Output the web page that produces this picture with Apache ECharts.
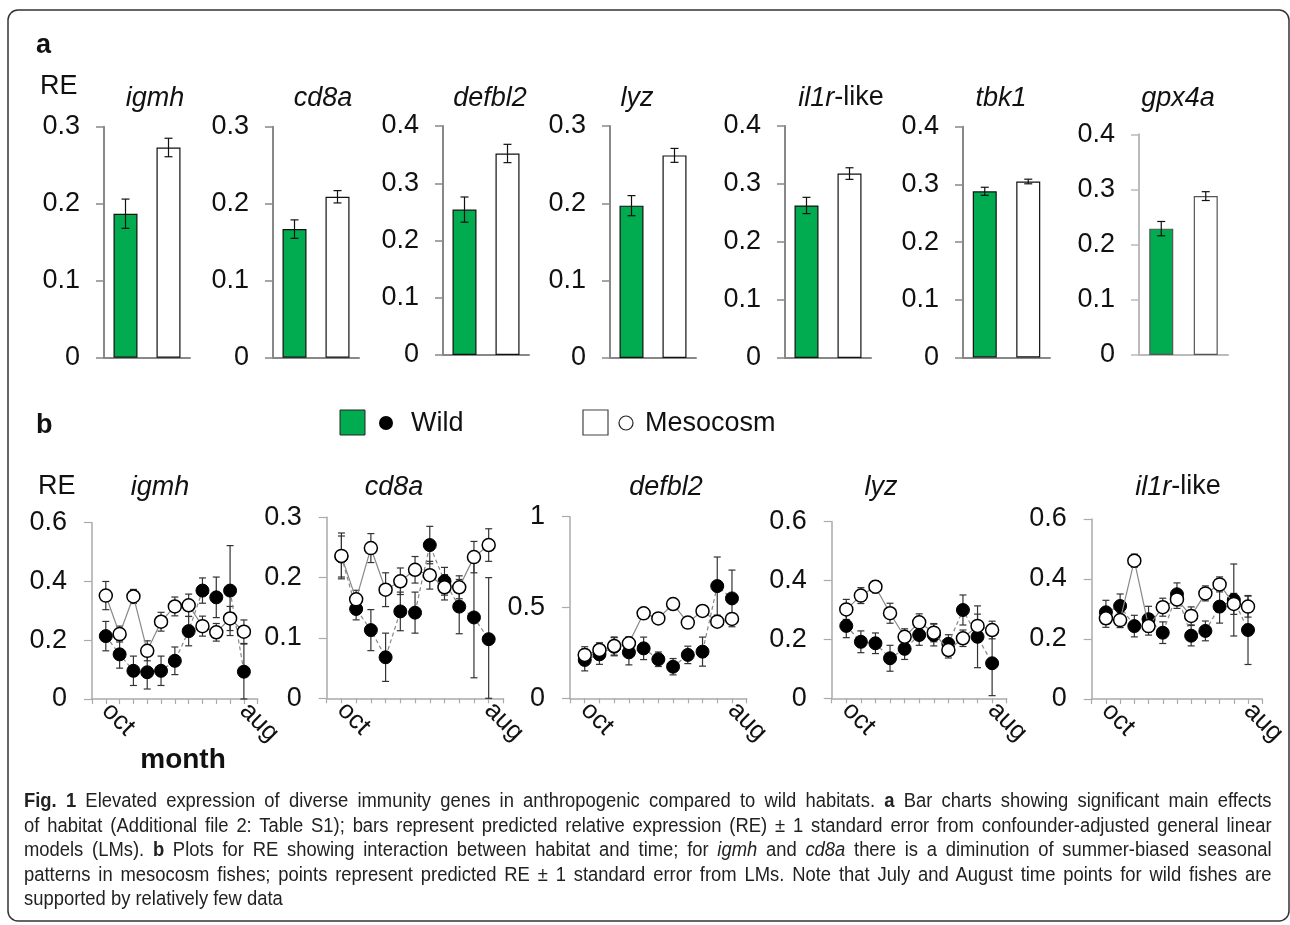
<!DOCTYPE html>
<html>
<head>
<meta charset="utf-8">
<script src="https://cdn.jsdelivr.net/npm/echarts@6/dist/echarts.min.js"></script>
<style>
html, body { margin: 0; padding: 0; background: #fff; }
#main { position: absolute; left: 0; top: 0; width: 1290px; height: 925px; }
#caption {
  position: absolute; left: 24px; top: 788px; width: 1356px;
  transform: scaleX(0.92); transform-origin: 0 0;
  font-family: 'Liberation Sans', Arial, sans-serif; font-size: 20px;
  line-height: 24.5px; color: #222;
}
#caption div { text-align: justify; text-align-last: justify; }
#caption div.last { text-align-last: left; }
</style>
</head>
<body>
<div id="main"></div>
<div id="caption">
  <div><b>Fig. 1</b> Elevated expression of diverse immunity genes in anthropogenic compared to wild habitats. <b>a</b> Bar charts showing significant main effects</div>
  <div>of habitat (Additional file 2: Table S1); bars represent predicted relative expression (RE) ± 1 standard error from confounder-adjusted general linear</div>
  <div>models (LMs). <b>b</b> Plots for RE showing interaction between habitat and time; for <i>igmh</i> and <i>cd8a</i> there is a diminution of summer-biased seasonal</div>
  <div>patterns in mesocosm fishes; points represent predicted RE ± 1 standard error from LMs. Note that July and August time points for wild fishes are</div>
  <div class="last">supported by relatively few data</div>
</div>
<script>
var myChart = echarts.init(document.getElementById('main'));

// panel a: main effect of habitat
var genesA = ['igmh', 'cd8a', 'defbl2', 'lyz', 'il1r-like', 'tbk1', 'gpx4a'];
var habitats = ['Wild', 'Mesocosm'];
var maxA = [0.3, 0.3, 0.4, 0.3, 0.4, 0.4, 0.4];
var wildA = [0.187, 0.167, 0.254, 0.197, 0.263, 0.288, 0.229];
var wildSeA = [0.019, 0.012, 0.022, 0.013, 0.014, 0.007, 0.013];
var mesoA = [0.273, 0.209, 0.352, 0.262, 0.318, 0.305, 0.288];
var mesoSeA = [0.012, 0.008, 0.016, 0.009, 0.010, 0.004, 0.008];

// panel b: habitat x month
var genesB = ['igmh', 'cd8a', 'defbl2', 'lyz', 'il1r-like'];
var months = ['oct', 'nov', 'dec', 'jan', 'feb', 'mar', 'apr', 'may', 'jun', 'jul', 'aug'];
var maxB = [0.6, 0.3, 1, 0.6, 0.6];
var stepB = [0.2, 0.1, 0.5, 0.2, 0.2];

var igmhWild = [0.214, 0.152, 0.096, 0.091, 0.096, 0.130, 0.231, 0.369, 0.346, 0.369, 0.093];
var igmhWildSe = [0.050, 0.047, 0.050, 0.057, 0.050, 0.047, 0.050, 0.043, 0.069, 0.153, 0.094];
var igmhMeso = [0.352, 0.221, 0.349, 0.164, 0.263, 0.315, 0.319, 0.248, 0.227, 0.274, 0.229];
var igmhMesoSe = [0.048, 0.027, 0.024, 0.034, 0.032, 0.032, 0.038, 0.034, 0.030, 0.041, 0.040];

var cd8aWild = [0.235, 0.148, 0.113, 0.068, 0.144, 0.142, 0.254, 0.194, 0.152, 0.134, 0.098];
var cd8aWildSe = [0.034, 0.018, 0.034, 0.040, 0.032, 0.034, 0.031, 0.023, 0.045, 0.100, 0.102];
var cd8aMeso = [0.236, 0.164, 0.249, 0.180, 0.194, 0.213, 0.204, 0.184, 0.184, 0.234, 0.254];
var cd8aMesoSe = [0.038, 0.015, 0.024, 0.028, 0.022, 0.022, 0.023, 0.021, 0.019, 0.026, 0.027];

var defbl2Wild = [0.211, 0.242, 0.284, 0.253, 0.275, 0.215, 0.174, 0.239, 0.257, 0.618, 0.550];
var defbl2WildSe = [0.060, 0.055, 0.050, 0.069, 0.062, 0.040, 0.045, 0.048, 0.080, 0.160, 0.156];
var defbl2Meso = [0.239, 0.266, 0.288, 0.303, 0.468, 0.440, 0.519, 0.417, 0.481, 0.422, 0.437];
var defbl2MesoSe = [0.045, 0.040, 0.050, 0.035, 0.020, 0.020, 0.020, 0.020, 0.020, 0.020, 0.020];

var lyzWild = [0.246, 0.192, 0.187, 0.136, 0.168, 0.215, 0.215, 0.185, 0.300, 0.209, 0.119];
var lyzWildSe = [0.040, 0.037, 0.035, 0.044, 0.036, 0.035, 0.037, 0.031, 0.051, 0.105, 0.110];
var lyzMeso = [0.302, 0.349, 0.379, 0.289, 0.209, 0.258, 0.223, 0.164, 0.204, 0.246, 0.232];
var lyzMesoSe = [0.034, 0.027, 0.021, 0.034, 0.027, 0.029, 0.031, 0.027, 0.028, 0.040, 0.030];

var il1rWild = [0.289, 0.310, 0.243, 0.266, 0.221, 0.349, 0.211, 0.227, 0.308, 0.330, 0.230];
var il1rWildSe = [0.040, 0.040, 0.036, 0.043, 0.036, 0.038, 0.034, 0.033, 0.055, 0.120, 0.115];
var il1rMeso = [0.269, 0.263, 0.461, 0.243, 0.306, 0.332, 0.277, 0.352, 0.382, 0.317, 0.308];
var il1rMesoSe = [0.030, 0.025, 0.022, 0.030, 0.030, 0.030, 0.030, 0.025, 0.025, 0.035, 0.035];

var wildB = [igmhWild, cd8aWild, defbl2Wild, lyzWild, il1rWild];
var wildSeB = [igmhWildSe, cd8aWildSe, defbl2WildSe, lyzWildSe, il1rWildSe];
var mesoB = [igmhMeso, cd8aMeso, defbl2Meso, lyzMeso, il1rMeso];
var mesoSeB = [igmhMesoSe, cd8aMesoSe, defbl2MesoSe, lyzMesoSe, il1rMesoSe];

// layout (pixels)
var gridsA = [
  [104, 126.7, 86, 231], [273, 126.7, 86, 231], [443, 126, 86, 229], [610, 126, 86, 232],
  [785, 126, 86, 232], [963, 126.7, 87, 230.7], [1139, 134.3, 89, 220.7]
];
var titleXA = [155, 323, 490, 637, 841, 1001, 1178];
var gridsB = [
  [92, 522.7, 165.7, 176.3], [326.7, 517.3, 176.7, 181], [570, 516.7, 176.7, 181.6],
  [831.7, 521.7, 175, 176.6], [1091.7, 519, 176.7, 180]
];
var titleXB = [160, 394, 666, 881, 1178];

var green = '#00AC4F';
var font = 'Liberation Sans, Arial, Helvetica, sans-serif';

function errorSeries(idx, data, color, cap, z) {
  return {
    type: 'custom',
    xAxisIndex: idx,
    yAxisIndex: idx,
    z: z,
    silent: true,
    data: data,
    renderItem: function (params, api) {
      var lo = api.coord([api.value(0), api.value(1)]);
      var hi = api.coord([api.value(0), api.value(2)]);
      var w = cap / 2;
      var st = { stroke: color, lineWidth: 1.2 };
      return {
        type: 'group',
        children: [
          { type: 'line', shape: { x1: hi[0], y1: hi[1], x2: lo[0], y2: lo[1] }, style: st },
          { type: 'line', shape: { x1: hi[0] - w, y1: hi[1], x2: hi[0] + w, y2: hi[1] }, style: st },
          { type: 'line', shape: { x1: lo[0] - w, y1: lo[1], x2: lo[0] + w, y2: lo[1] }, style: st }
        ]
      };
    }
  };
}

function titleText(g, x, y) {
  var t = g === 'il1r-like' ? '{i|il1r}{n|-like}' : '{i|' + g + '}';
  return {
    type: 'text',
    style: {
      text: t, x: x, y: y, align: 'center', verticalAlign: 'middle',
      fill: '#111', font: '27px ' + font,
      rich: {
        i: { fontStyle: 'italic', fontSize: 27, fontFamily: font, fill: '#111' },
        n: { fontSize: 27, fontFamily: font, fill: '#111' }
      }
    }
  };
}

var grid = [], xAxis = [], yAxis = [], series = [], graphic = [];

// panel a
genesA.forEach(function (g, i) {
  var lay = gridsA[i];
  var axisColor = i === 6 ? '#bbb' : '#888';
  grid.push({ left: lay[0], top: lay[1], width: lay[2], height: lay[3] });
  xAxis.push({
    type: 'category', gridIndex: i, data: habitats,
    axisLine: { lineStyle: { color: axisColor, width: 2 } },
    axisTick: { length: 5, lineStyle: { color: axisColor, width: 2 } },
    axisLabel: { show: false }
  });
  yAxis.push({
    type: 'value', gridIndex: i, min: 0, max: maxA[i], interval: 0.1,
    axisLine: { show: true, lineStyle: { color: axisColor, width: 2 } },
    axisTick: { show: true, length: 8, lineStyle: { color: axisColor, width: 1.5 } },
    splitLine: { show: false },
    axisLabel: { fontSize: 27, color: '#111', margin: 24, fontFamily: font }
  });
  series.push({
    type: 'bar', xAxisIndex: i, yAxisIndex: i, barWidth: 24, z: 2,
    itemStyle: { borderColor: i === 6 ? '#555' : '#111', borderWidth: 1.2 },
    data: [
      { value: wildA[i], itemStyle: { color: green } },
      { value: mesoA[i], itemStyle: { color: '#fff' } }
    ]
  });
  series.push(errorSeries(i, [
    [0, wildA[i] - wildSeA[i], wildA[i] + wildSeA[i]],
    [1, mesoA[i] - mesoSeA[i], mesoA[i] + mesoSeA[i]]
  ], '#111', 8, 3));
  graphic.push(titleText(g, titleXA[i], 98));
});

// panel b
var xCats = [''].concat(months).concat([' ']);
genesB.forEach(function (g, j) {
  var i = j + genesA.length;
  var lay = gridsB[j];
  grid.push({ left: lay[0], top: lay[1], width: lay[2], height: lay[3] });
  xAxis.push({
    type: 'category', gridIndex: i, data: xCats, boundaryGap: false,
    axisLine: { lineStyle: { color: '#aaa', width: 1.5 } },
    axisTick: { interval: 0, length: 5, lineStyle: { color: '#aaa', width: 1.2 } },
    axisLabel: {
      interval: function (idx, val) { return val === 'oct' || val === 'aug'; },
      rotate: -45, fontSize: 26, color: '#111', margin: 8, fontFamily: font
    }
  });
  yAxis.push({
    type: 'value', gridIndex: i, min: 0, max: maxB[j], interval: stepB[j],
    axisLine: { show: true, lineStyle: { color: '#aaa', width: 1.5 } },
    axisTick: { show: true, length: 8, lineStyle: { color: '#aaa', width: 1.2 } },
    splitLine: { show: false },
    axisLabel: { fontSize: 27, color: '#111', margin: 25, fontFamily: font }
  });
  var wd = wildB[j], ws = wildSeB[j], md = mesoB[j], ms = mesoSeB[j];
  series.push(errorSeries(i, wd.map(function (v, k) {
    return [k + 1, Math.max(0, v - ws[k]), v + ws[k]];
  }), '#333', 7, 2));
  series.push(errorSeries(i, md.map(function (v, k) {
    return [k + 1, Math.max(0, v - ms[k]), v + ms[k]];
  }), '#333', 7, 2));
  series.push({
    type: 'line', xAxisIndex: i, yAxisIndex: i, z: 3,
    symbol: 'circle', symbolSize: 13, showSymbol: true, showAllSymbol: true,
    lineStyle: { color: '#888', width: 1.2, type: [4, 3] },
    itemStyle: { color: '#000', borderColor: '#000', borderWidth: 1 },
    data: wd.map(function (v, k) { return [k + 1, v]; })
  });
  series.push({
    type: 'line', xAxisIndex: i, yAxisIndex: i, z: 4,
    symbol: 'circle', symbolSize: 13, showSymbol: true, showAllSymbol: true,
    lineStyle: { color: '#888', width: 1.2 },
    itemStyle: { color: '#fff', borderColor: '#000', borderWidth: 1.5 },
    data: md.map(function (v, k) { return [k + 1, v]; })
  });
  graphic.push(titleText(g, titleXB[j], 487));
});

// frame, panel letters, axis names and legend
graphic.push(
  { type: 'rect', shape: { x: 8, y: 10, width: 1281, height: 911, r: 10 },
    style: { fill: 'none', stroke: '#333', lineWidth: 1.5 }, z: -1 },
  { type: 'text', style: { text: 'a', x: 36, y: 46, verticalAlign: 'middle', font: 'bold 27px ' + font, fill: '#111' } },
  { type: 'text', style: { text: 'b', x: 36, y: 426, verticalAlign: 'middle', font: 'bold 27px ' + font, fill: '#111' } },
  { type: 'text', style: { text: 'RE', x: 40, y: 87, verticalAlign: 'middle', font: '27px ' + font, fill: '#111' } },
  { type: 'text', style: { text: 'RE', x: 38, y: 487, verticalAlign: 'middle', font: '27px ' + font, fill: '#111' } },
  { type: 'text', style: { text: 'month', x: 183, y: 760, align: 'center', verticalAlign: 'middle', font: 'bold 28px ' + font, fill: '#111' } },
  { type: 'rect', shape: { x: 340, y: 410, width: 25, height: 25 }, style: { fill: green, stroke: '#222', lineWidth: 1 } },
  { type: 'circle', shape: { cx: 386, cy: 423, r: 7 }, style: { fill: '#000' } },
  { type: 'text', style: { text: 'Wild', x: 411, y: 424, verticalAlign: 'middle', font: '27px ' + font, fill: '#111' } },
  { type: 'rect', shape: { x: 583, y: 410, width: 25, height: 25 }, style: { fill: '#fff', stroke: '#444', lineWidth: 1.2 } },
  { type: 'circle', shape: { cx: 626, cy: 423, r: 7 }, style: { fill: '#fff', stroke: '#222', lineWidth: 1.2 } },
  { type: 'text', style: { text: 'Mesocosm', x: 645, y: 424, verticalAlign: 'middle', font: '27px ' + font, fill: '#111' } }
);

var option = {
  animation: false,
  backgroundColor: '#fff',
  grid: grid,
  xAxis: xAxis,
  yAxis: yAxis,
  series: series,
  graphic: graphic
};

myChart.setOption(option);
</script>
</body>
</html>
